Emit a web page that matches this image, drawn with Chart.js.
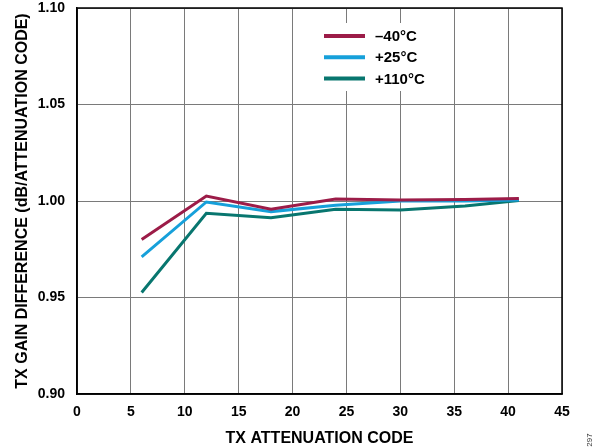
<!DOCTYPE html>
<html>
<head>
<meta charset="utf-8">
<script src="https://cdn.jsdelivr.net/npm/chart.js@4.4.1/dist/chart.umd.min.js"></script>
<style>
  body { margin: 0; background: #fff; }
  canvas { display: block; }
</style>
</head>
<body>
<canvas id="chartTxGain" width="602" height="448"></canvas>
<script>
/* TX gain difference vs attenuation code */

const attenCodes = [6, 12, 18, 24, 30, 36, 41];
const gainMinus40 = [0.980, 1.0026, 0.9957, 1.0010, 1.0005, 1.0008, 1.0013];
const gainPlus25 = [0.971, 0.9995, 0.9945, 0.9978, 1.0000, 1.0000, 1.0005];
const gainPlus110 = [0.9526, 0.9936, 0.9913, 0.9957, 0.9953, 0.9974, 1.0003];
const seriesLabels = ["\u201340\u00b0C", "+25\u00b0C", "+110\u00b0C"];
const seriesColors = ["#9c1c48", "#16a0da", "#08766f"];

const FONT = "'Liberation Sans', Arial, sans-serif";

// legend drawn inside the plot on a white box
const insideLegend = {
  id: "insideLegend",
  afterDatasetsDraw(chart) {
    const { ctx } = chart;
    ctx.save();
    ctx.fillStyle = "#fff";
    ctx.fillRect(300, 23, 140, 68);
    seriesLabels.forEach((label, i) => {
      const y = 36 + i * 21.3;
      ctx.strokeStyle = seriesColors[i];
      ctx.lineWidth = 4;
      ctx.beginPath();
      ctx.moveTo(324, y);
      ctx.lineTo(365, y);
      ctx.stroke();
      ctx.fillStyle = "#000";
      ctx.font = `bold 15px ${FONT}`;
      ctx.textBaseline = "middle";
      ctx.fillText(label, 375, y + 1);
    });
    // figure number
    ctx.translate(590, 440);
    ctx.rotate(-Math.PI / 2);
    ctx.font = `8px ${FONT}`;
    ctx.fillStyle = "#333";
    ctx.textAlign = "center";
    ctx.fillText("297", 0, 0);
    ctx.restore();
  },
};

// black frame round the plot area
const frameBox = {
  id: "frameBox",
  afterDraw(chart) {
    const { ctx, chartArea: a } = chart;
    ctx.save();
    ctx.strokeStyle = "#000";
    ctx.lineWidth = 1.5;
    ctx.strokeRect(a.left, a.top, a.right - a.left, a.bottom - a.top);
    ctx.restore();
  },
};

function drawChart() {
  const ctx = document.getElementById("chartTxGain");
  new Chart(ctx, {
    type: "line",
    data: {
      labels: attenCodes,
      datasets: [gainMinus40, gainPlus25, gainPlus110].map((vals, i) => ({
        label: seriesLabels[i],
        data: attenCodes.map((x, j) => ({ x, y: vals[j] })),
        borderColor: seriesColors[i],
        backgroundColor: seriesColors[i],
        borderWidth: 3,
        pointRadius: 0,
        tension: 0,
        fill: false,
      })),
    },
    options: {
      responsive: false,
      animation: false,
      layout: { padding: { top: 0, right: 40, left: 0, bottom: 0 } },
      scales: {
        x: {
          type: "linear",
          min: 0,
          max: 45,
          ticks: {
            stepSize: 5,
            padding: 10,
            color: "#000",
            font: { family: FONT, size: 14, weight: "bold" },
          },
          grid: { color: "#7a7a7a", lineWidth: 1, drawTicks: false },
          border: { color: "#000", width: 1.5 },
          title: {
            display: true,
            text: "TX ATTENUATION CODE",
            color: "#000",
            font: { family: FONT, size: 16, weight: "bold" },
            padding: { top: 0, bottom: 0 },
          },
          afterFit: (s) => { s.height = 54; },
        },
        y: {
          min: 0.9,
          max: 1.1,
          ticks: {
            stepSize: 0.05,
            padding: 12,
            color: "#000",
            font: { family: FONT, size: 14, weight: "bold" },
            callback: (v) => v.toFixed(2),
          },
          grid: { color: "#7a7a7a", lineWidth: 1, drawTicks: false },
          border: { color: "#000", width: 1.5 },
          title: {
            display: true,
            text: "TX GAIN DIFFERENCE (dB/ATTENUATION CODE)",
            color: "#000",
            font: { family: FONT, size: 16, weight: "bold" },
            padding: { top: 13, bottom: 0 },
          },
          afterFit: (s) => {
            s.width = 77;
            s.paddingTop = 8; // keep 1.10 close to the top edge
          },
        },
      },
      plugins: {
        legend: { display: false },
        tooltip: { enabled: false },
      },
    },
    plugins: [insideLegend, frameBox],
  });
}

drawChart();
</script>
</body>
</html>
